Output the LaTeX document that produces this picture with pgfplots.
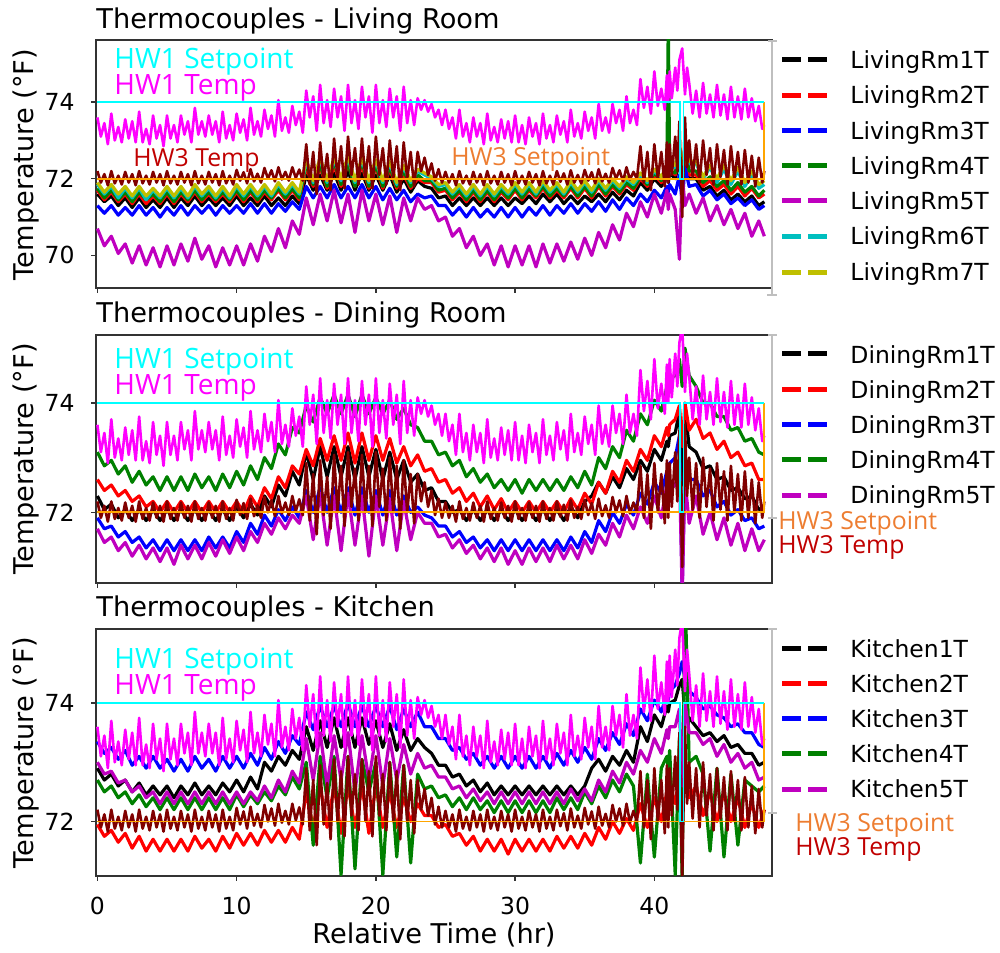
\documentclass[border=0pt]{standalone}
\usepackage{pgfplots}
\usepackage{pgfplotstable}
\pgfplotsset{compat=1.18}
\usepackage{fontspec}
\setmainfont{DejaVu Sans}
\newfontfamily\osans{Open Sans}

\definecolor{hwcyan}{RGB}{0,255,255}
\definecolor{hwmag}{RGB}{255,0,255}
\definecolor{hwmaroon}{RGB}{128,0,0}
\definecolor{hworange}{RGB}{255,165,0}
\definecolor{lblorange}{RGB}{237,125,49}
\definecolor{lblred}{RGB}{192,0,0}
\definecolor{mplgreen}{RGB}{0,128,0}
\definecolor{mplmag}{RGB}{191,0,191}
\definecolor{mplcyan}{RGB}{0,191,191}
\definecolor{mplolive}{RGB}{191,191,0}

\newcommand\legfont{\fontsize{11.75}{13}\selectfont}
\newcommand\titlefont{\fontsize{13.6}{15}\selectfont}
\newcommand\hwbig{\osans\fontsize{14}{16}\selectfont}
\newcommand\hwsmall{\osans\fontsize{12.4}{14}\selectfont}

% HW temperatures, sampled every 15 min (denser around the 42 h event).
\pgfplotstableread{
x 0 0.25 0.5 0.75 1 1.25 1.5 1.75 2 2.25 2.5 2.75 3 3.25 3.5 3.75 4 4.25 4.5 4.75 5 5.25 5.5 5.75 6 6.25 6.5 6.75 7 7.25 7.5 7.75 8 8.25 8.5 8.75 9 9.25 9.5 9.75 10 10.25 10.5 10.75 11 11.25 11.5 11.75 12 12.25 12.5 12.75 13 13.25 13.5 13.75 14 14.25 14.5 14.75 15 15.25 15.5 15.75 16 16.25 16.5 16.75 17 17.25 17.5 17.75 18 18.25 18.5 18.75 19 19.25 19.5 19.75 20 20.25 20.5 20.75 21 21.25 21.5 21.75 22 22.25 22.5 22.75 23 23.25 23.5 23.75 24 24.25 24.5 24.75 25 25.25 25.5 25.75 26 26.25 26.5 26.75 27 27.25 27.5 27.75 28 28.25 28.5 28.75 29 29.25 29.5 29.75 30 30.25 30.5 30.75 31 31.25 31.5 31.75 32 32.25 32.5 32.75 33 33.25 33.5 33.75 34 34.25 34.5 34.75 35 35.25 35.5 35.75 36 36.25 36.5 36.75 37 37.25 37.5 37.75 38 38.25 38.5 38.75 39 39.25 39.5 39.75 40 40.25 40.5 40.75 40.9 41 41.1 41.25 41.5 41.65 41.8 42 42.2 42.35 42.5 42.75 43 43.25 43.5 43.75 44 44.25 44.5 44.75 45 45.25 45.5 45.75 46 46.25 46.5 46.75 47 47.25 47.5 47.75 47.9
hw1 73.6 73.1 73.45 72.9 73.7 73.0 73.35 72.95 73.55 73.05 73.5 72.95 73.75 72.95 73.3 72.9 73.65 73.05 73.4 72.85 73.65 73.05 73.4 72.95 73.65 73.15 73.5 72.95 73.85 73.15 73.5 73.1 73.65 73.15 73.5 72.95 73.75 73.05 73.4 73.0 73.7 73.2 73.55 73.0 73.85 73.15 73.5 73.1 73.8 73.3 73.65 73.1 74.05 73.25 73.6 73.2 73.9 73.4 73.75 73.2 74.3 73.6 74.15 73.25 74.45 73.45 74.05 73.35 74.35 73.6 74.15 73.25 74.45 73.45 74.05 73.3 74.4 73.6 74.15 73.2 74.45 73.45 74.05 73.35 74.35 73.6 74.15 73.25 74.4 73.45 74.05 73.4 74.1 73.8 74.05 73.75 73.95 73.6 73.8 73.4 73.8 73.3 73.6 73.05 73.8 73.1 73.45 72.95 73.6 73.1 73.45 72.9 73.7 73.0 73.35 72.95 73.55 73.05 73.5 72.95 73.65 72.95 73.4 72.9 73.6 73.1 73.45 72.9 73.7 73.05 73.4 72.95 73.65 73.15 73.5 72.95 73.8 73.1 73.45 73.05 73.75 73.25 73.6 73.05 73.95 73.25 73.6 73.2 73.95 73.45 73.8 73.25 74.15 73.45 73.8 73.4 74.6 73.85 74.4 73.7 74.8 73.9 74.35 73.8 74.7 74.0 74.8 74.1 74.9 74.3 75.1 75.4 74.2 74.9 74.5 73.7 74.3 73.6 74.5 73.7 74.2 73.6 74.45 73.65 74.2 73.55 74.4 73.6 74.15 73.55 74.35 73.6 74.1 73.5 73.9 73.3 73.4
hw3 72.2 71.9 72.12 71.83 72.2 71.88 72.08 71.85 72.18 71.9 72.12 71.83 72.2 71.88 72.08 71.85 72.18 71.9 72.12 71.83 72.2 71.88 72.08 71.85 72.18 71.9 72.12 71.83 72.2 71.88 72.08 71.85 72.18 71.9 72.12 71.83 72.2 71.88 72.08 71.85 72.23 71.95 72.17 71.88 72.25 71.93 72.13 71.9 72.28 72.0 72.22 71.93 72.3 71.98 72.18 71.95 72.3 72.02 72.24 71.95 72.9 71.85 72.7 71.6 72.95 71.95 72.65 71.7 73.05 72.0 72.85 71.75 73.1 72.1 72.8 71.85 73.05 72.0 72.85 71.75 73.1 72.1 72.8 71.85 73.0 72.0 72.85 71.7 72.95 72.0 72.7 71.8 72.7 72.2 72.55 72.1 72.4 71.95 72.25 71.9 72.18 71.9 72.12 71.83 72.2 71.88 72.08 71.85 72.18 71.9 72.12 71.83 72.2 71.88 72.08 71.85 72.18 71.9 72.12 71.83 72.2 71.88 72.08 71.85 72.18 71.9 72.12 71.83 72.2 71.88 72.08 71.85 72.2 71.92 72.14 71.85 72.22 71.9 72.1 71.88 72.23 71.95 72.17 71.88 72.25 71.93 72.13 71.9 72.28 72.0 72.22 71.93 72.3 71.98 72.18 72.0 72.85 71.9 72.7 71.7 72.9 72.0 72.7 71.8 72.95 71.9 72.9 72.1 73.1 72.2 73.5 71.0 73.6 72.3 73.0 72.05 72.9 71.9 73.0 72.1 72.8 71.85 72.9 72.05 72.75 71.85 72.85 72.0 72.7 71.85 72.75 71.9 72.6 71.8 72.55 71.9 72.2
}\hwraw
\pgfplotstabletranspose[colnames from=x, input colnames to=t]\hwdata\hwraw

% Thermocouple readings, one row per sensor, every 30 min.
\pgfplotstableread{
x 0 0.5 1 1.5 2 2.5 3 3.5 4 4.5 5 5.5 6 6.5 7 7.5 8 8.5 9 9.5 10 10.5 11 11.5 12 12.5 13 13.5 14 14.5 15 15.5 16 16.5 17 17.5 18 18.5 19 19.5 20 20.5 21 21.5 22 22.5 23 23.5 24 24.5 25 25.5 26 26.5 27 27.5 28 28.5 29 29.5 30 30.5 31 31.5 32 32.5 33 33.5 34 34.5 35 35.5 36 36.5 37 37.5 38 38.5 39 39.5 40 40.5 40.9 41 41.1 41.5 41.8 42 42.2 42.5 43 43.5 44 44.5 45 45.5 46 46.5 47 47.5 47.9
l1 71.6 71.4 71.55 71.3 71.5 71.25 71.5 71.25 71.45 71.25 71.5 71.25 71.5 71.3 71.55 71.3 71.5 71.3 71.5 71.3 71.55 71.3 71.5 71.3 71.55 71.3 71.5 71.3 71.55 71.35 72.1 71.7 72.1 71.7 72.15 71.7 72.2 71.7 72.15 71.7 72.1 71.7 72.1 71.65 72.0 71.65 71.95 71.8 71.75 71.5 71.55 71.3 71.5 71.3 71.5 71.3 71.5 71.3 71.5 71.3 71.5 71.35 71.55 71.35 71.6 71.4 71.6 71.35 71.55 71.35 71.55 71.4 71.6 71.4 71.65 71.45 71.7 71.55 71.9 71.7 72.0 71.8 72.1 71.9 72.15 72.0 72.5 71.6 72.6 72.0 72.0 71.7 71.8 71.55 71.7 71.45 71.6 71.4 71.55 71.3 71.4
l2 71.7 71.45 71.65 71.4 71.6 71.35 71.6 71.35 71.55 71.35 71.6 71.35 71.6 71.4 71.65 71.4 71.6 71.4 71.6 71.4 71.65 71.4 71.65 71.4 71.65 71.45 71.7 71.45 71.7 71.45 72.3 71.8 72.3 71.75 72.35 71.8 72.4 71.8 72.35 71.75 72.3 71.75 72.25 71.75 72.1 71.75 72.0 71.9 71.9 71.65 71.7 71.45 71.65 71.4 71.65 71.4 71.65 71.4 71.65 71.45 71.7 71.45 71.7 71.5 71.75 71.5 71.7 71.5 71.75 71.5 71.75 71.5 71.8 71.55 71.8 71.6 71.85 71.7 72.0 71.8 72.1 71.9 72.2 72.0 72.25 72.1 72.6 71.8 72.7 72.1 72.1 71.8 71.95 71.7 71.85 71.6 71.8 71.55 71.75 71.5 71.6
l3 71.3 71.1 71.3 71.05 71.25 71.05 71.3 71.05 71.25 71.0 71.25 71.05 71.3 71.05 71.3 71.1 71.3 71.05 71.3 71.1 71.3 71.1 71.35 71.1 71.35 71.1 71.35 71.15 71.4 71.2 71.8 71.5 71.8 71.5 71.85 71.5 71.8 71.5 71.85 71.5 71.8 71.45 71.75 71.45 71.7 71.4 71.6 71.5 71.55 71.3 71.3 71.05 71.25 71.0 71.25 71.0 71.2 71.0 71.25 71.0 71.25 71.0 71.25 71.05 71.3 71.05 71.3 71.1 71.35 71.1 71.35 71.15 71.4 71.15 71.45 71.2 71.5 71.3 71.6 71.4 71.7 71.5 71.8 71.65 71.85 71.6 72.1 71.4 72.3 71.8 71.85 71.55 71.7 71.45 71.6 71.35 71.5 71.3 71.45 71.2 71.3
l4 71.75 71.5 71.7 71.45 71.65 71.4 71.65 71.45 71.6 71.4 71.65 71.4 71.65 71.45 71.7 71.45 71.65 71.45 71.65 71.45 71.7 71.45 71.7 71.45 71.7 71.5 71.75 71.5 71.75 71.5 72.4 71.85 72.35 71.8 72.45 71.85 72.4 71.8 72.45 71.8 72.35 71.8 72.3 71.8 72.2 71.8 72.1 71.95 71.95 71.7 71.75 71.5 71.7 71.45 71.7 71.45 71.7 71.45 71.7 71.5 71.75 71.5 71.75 71.55 71.8 71.55 71.75 71.55 71.8 71.55 71.8 71.55 71.85 71.6 71.85 71.65 71.9 71.75 72.05 71.85 72.15 71.95 72.2 76.0 72.2 72.15 72.7 71.9 72.8 72.2 72.2 71.9 72.05 71.8 71.95 71.7 71.9 71.65 71.8 71.55 71.7
l5 70.7 70.25 70.5 70.05 70.3 69.8 70.25 69.75 70.2 69.7 70.25 69.75 70.3 69.85 70.45 69.9 70.25 69.7 70.2 69.75 70.25 69.75 70.3 69.85 70.5 70.1 70.7 70.2 70.9 70.55 71.5 70.8 71.6 70.9 71.7 70.85 71.6 70.6 71.7 70.9 71.6 70.8 71.55 70.6 71.5 70.9 71.5 71.2 71.3 70.9 71.0 70.5 70.7 70.2 70.5 70.0 70.3 69.75 70.25 69.7 70.25 69.75 70.25 69.7 70.3 69.8 70.3 69.85 70.35 69.9 70.45 70.0 70.6 70.2 70.8 70.4 71.1 70.75 71.4 71.0 71.6 71.1 71.7 71.2 71.6 71.2 69.9 72.1 71.3 71.6 71.1 71.5 70.9 71.3 70.8 71.2 70.7 71.1 70.5 70.9 70.5
l6 71.85 71.6 71.8 71.5 71.75 71.5 71.75 71.45 71.7 71.5 71.75 71.5 71.75 71.5 71.8 71.55 71.75 71.5 71.75 71.5 71.8 71.55 71.8 71.55 71.8 71.55 71.85 71.6 71.85 71.6 72.45 71.9 72.5 71.9 72.5 71.95 72.55 71.9 72.5 71.9 72.45 71.9 72.4 71.85 72.3 71.9 72.2 72.1 72.0 71.8 71.85 71.6 71.8 71.55 71.8 71.55 71.8 71.55 71.8 71.6 71.85 71.6 71.85 71.6 71.9 71.65 71.85 71.6 71.9 71.65 71.9 71.65 71.95 71.7 71.95 71.75 72.0 71.85 72.1 71.9 72.2 72.0 72.3 72.05 72.3 72.3 72.8 72.0 72.9 72.4 72.4 72.0 72.3 71.9 72.25 71.85 72.2 71.8 72.1 71.75 71.85
l7 71.9 71.65 71.85 71.6 71.8 71.55 71.8 71.55 71.75 71.55 71.8 71.55 71.8 71.55 71.85 71.6 71.8 71.55 71.8 71.55 71.85 71.6 71.85 71.6 71.85 71.6 71.9 71.65 71.9 71.65 72.5 71.95 72.55 71.95 72.55 72.0 72.6 71.95 72.55 71.95 72.5 71.95 72.45 71.9 72.35 71.95 72.25 72.15 72.05 71.85 71.9 71.65 71.85 71.6 71.85 71.6 71.85 71.6 71.85 71.65 71.9 71.65 71.9 71.65 71.95 71.7 71.9 71.65 71.95 71.7 71.95 71.7 72.0 71.75 72.0 71.8 72.05 71.9 72.15 71.95 72.25 72.05 72.35 72.1 72.35 72.35 72.9 72.0 72.95 72.45 72.45 72.05 72.35 72.0 72.35 71.95 72.3 71.9 72.2 71.85 71.95
}\livingraw
\pgfplotstabletranspose[colnames from=x, input colnames to=t]\living\livingraw

\pgfplotstableread{
x 0 0.5 1 1.5 2 2.5 3 3.5 4 4.5 5 5.5 6 6.5 7 7.5 8 8.5 9 9.5 10 10.5 11 11.5 12 12.5 13 13.5 14 14.5 15 15.5 16 16.5 17 17.5 18 18.5 19 19.5 20 20.5 21 21.5 22 22.5 23 23.5 24 24.5 25 25.5 26 26.5 27 27.5 28 28.5 29 29.5 30 30.5 31 31.5 32 32.5 33 33.5 34 34.5 35 35.5 36 36.5 37 37.5 38 38.5 39 39.5 40 40.5 40.9 41 41.1 41.5 41.8 42 42.2 42.5 43 43.5 44 44.5 45 45.5 46 46.5 47 47.5 47.9
d1 72.3 72.05 72.15 71.9 72.05 71.85 72.05 71.85 72.05 71.85 72.05 71.85 72.05 71.85 72.05 71.85 72.05 71.85 72.05 71.85 72.1 71.9 72.15 71.95 72.3 72.1 72.5 72.3 72.75 72.5 73.1 72.6 73.2 72.65 73.2 72.65 73.2 72.6 73.2 72.65 73.15 72.6 73.1 72.6 72.95 72.55 72.7 72.4 72.45 72.2 72.2 72.0 72.05 71.85 72.05 71.85 72.05 71.85 72.05 71.85 72.05 71.85 72.05 71.85 72.05 71.85 72.05 71.85 72.1 71.9 72.2 72.3 72.55 72.35 72.65 72.45 72.8 72.6 72.95 72.75 73.15 72.95 73.3 73.2 73.4 73.45 73.85 72.5 73.9 73.2 73.1 72.8 72.85 72.6 72.65 72.4 72.45 72.25 72.3 72.05 72.1
d2 72.6 72.4 72.5 72.3 72.4 72.2 72.3 72.1 72.2 72.0 72.2 72.0 72.2 72.0 72.2 72.0 72.2 72.0 72.2 72.0 72.2 72.0 72.3 72.1 72.45 72.25 72.65 72.45 72.85 72.7 73.15 72.85 73.35 72.95 73.4 72.95 73.45 72.9 73.45 72.95 73.4 72.95 73.35 72.9 73.2 72.85 73.05 72.75 72.8 72.55 72.6 72.35 72.45 72.2 72.35 72.1 72.3 72.05 72.25 72.0 72.2 72.0 72.2 72.0 72.2 72.0 72.2 72.0 72.25 72.05 72.35 72.15 72.55 72.35 72.75 72.55 72.95 72.75 73.15 72.95 73.4 73.2 73.55 73.4 73.6 73.7 73.95 73.2 74.0 73.5 73.7 73.35 73.45 73.15 73.3 73.0 73.1 72.85 72.9 72.6 72.6
d3 71.9 71.7 71.75 71.55 71.65 71.45 71.55 71.35 71.5 71.3 71.5 71.3 71.5 71.3 71.5 71.3 71.55 71.35 71.55 71.35 71.65 71.45 71.8 71.6 71.95 71.75 72.05 71.85 72.1 71.9 72.4 72.0 72.45 72.0 72.45 72.0 72.45 71.95 72.45 72.0 72.4 71.95 72.4 71.95 72.3 72.0 72.1 71.95 71.9 71.75 71.75 71.55 71.65 71.45 71.55 71.35 71.5 71.3 71.5 71.3 71.5 71.3 71.5 71.3 71.5 71.3 71.5 71.3 71.55 71.35 71.65 71.45 71.85 71.65 72.0 71.8 72.15 71.95 72.35 72.15 72.55 72.35 72.75 72.7 72.9 73.0 73.4 70.6 73.0 72.6 72.6 72.3 72.4 72.1 72.2 71.95 72.05 71.85 71.9 71.7 71.75
d4 73.1 72.85 72.95 72.7 72.85 72.55 72.75 72.5 72.65 72.4 72.65 72.4 72.65 72.4 72.7 72.45 72.65 72.4 72.7 72.45 72.75 72.5 72.85 72.6 73.0 72.8 73.25 73.05 73.55 73.45 73.95 73.65 74.1 73.8 74.15 73.8 74.15 73.75 74.15 73.8 74.1 73.8 74.05 73.7 73.9 73.6 73.55 73.3 73.3 73.05 73.1 72.85 72.95 72.65 72.8 72.55 72.7 72.45 72.6 72.4 72.6 72.35 72.6 72.4 72.6 72.4 72.6 72.4 72.65 72.45 72.75 72.5 73.0 72.8 73.2 73.0 73.5 73.3 73.8 73.6 74.05 73.85 74.3 74.2 74.45 74.5 74.8 74.3 75.0 74.5 74.3 74.0 74.0 73.75 73.75 73.5 73.55 73.3 73.35 73.1 73.05
d5 71.7 71.45 71.55 71.3 71.45 71.2 71.4 71.15 71.35 71.1 71.35 71.05 71.4 71.15 71.4 71.15 71.45 71.2 71.5 71.25 71.55 71.3 71.65 71.45 71.8 71.6 71.9 71.7 71.95 71.8 72.3 71.5 72.35 71.4 72.3 71.3 72.35 71.4 72.3 71.2 72.3 71.4 72.25 71.3 72.2 71.5 72.0 71.8 71.8 71.55 71.6 71.35 71.5 71.25 71.4 71.15 71.35 71.1 71.35 71.05 71.3 71.05 71.35 71.1 71.35 71.1 71.4 71.15 71.4 71.15 71.5 71.25 71.6 71.4 71.8 71.55 71.95 71.7 72.1 71.8 72.3 71.9 72.5 72.3 72.4 72.5 72.8 70.5 72.6 71.8 72.3 71.6 72.0 71.5 71.9 71.4 71.8 71.3 71.7 71.3 71.5
}\diningraw
\pgfplotstabletranspose[colnames from=x, input colnames to=t]\dining\diningraw

\pgfplotstableread{
x 0 0.5 1 1.5 2 2.5 3 3.5 4 4.5 5 5.5 6 6.5 7 7.5 8 8.5 9 9.5 10 10.5 11 11.5 12 12.5 13 13.5 14 14.5 15 15.5 16 16.5 17 17.5 18 18.5 19 19.5 20 20.5 21 21.5 22 22.5 23 23.5 24 24.5 25 25.5 26 26.5 27 27.5 28 28.5 29 29.5 30 30.5 31 31.5 32 32.5 33 33.5 34 34.5 35 35.5 36 36.5 37 37.5 38 38.5 39 39.5 40 40.5 40.9 41 41.1 41.5 41.8 42 42.2 42.5 43 43.5 44 44.5 45 45.5 46 46.5 47 47.5 47.9
k1 72.9 72.7 72.8 72.6 72.7 72.5 72.65 72.45 72.6 72.45 72.6 72.4 72.6 72.45 72.65 72.45 72.6 72.45 72.65 72.5 72.7 72.5 72.75 72.55 73.0 72.85 73.1 72.95 73.2 73.05 73.6 73.2 73.7 73.25 73.75 73.25 73.75 73.25 73.75 73.3 73.7 73.25 73.65 73.2 73.55 73.2 73.4 73.25 73.15 72.95 72.95 72.75 72.8 72.6 72.7 72.5 72.65 72.45 72.6 72.45 72.6 72.45 72.6 72.45 72.6 72.45 72.6 72.45 72.6 72.45 72.6 72.9 73.05 72.85 73.1 72.95 73.2 73.0 73.6 73.35 73.8 73.6 73.95 73.85 74.0 74.05 74.3 74.4 73.8 73.75 73.6 73.45 73.5 73.35 73.45 73.25 73.3 73.15 73.15 72.95 73.0
k2 71.95 71.75 71.85 71.65 71.8 71.55 71.75 71.5 71.7 71.5 71.7 71.5 71.7 71.5 71.75 71.55 71.7 71.5 71.75 71.55 71.8 71.6 71.8 71.6 71.85 71.65 71.85 71.65 71.9 71.7 72.5 71.9 72.6 71.9 72.6 71.8 72.6 71.9 72.6 71.8 72.6 71.9 72.5 71.9 72.4 72.0 72.3 72.1 72.1 71.9 71.95 71.75 71.8 71.6 71.75 71.5 71.7 71.5 71.7 71.45 71.7 71.5 71.7 71.5 71.7 71.5 71.75 71.55 71.75 71.55 71.8 71.6 71.9 71.7 72.0 71.8 72.05 71.85 72.3 71.9 72.4 72.0 72.5 72.2 72.6 72.3 72.8 72.0 72.9 72.4 72.6 72.1 72.5 72.0 72.5 72.0 72.4 71.9 72.3 71.9 72.2
k3 73.35 73.15 73.25 73.05 73.2 72.95 73.1 72.9 73.1 72.9 73.05 72.85 73.05 72.85 73.1 72.9 73.05 72.85 73.1 72.9 73.1 72.9 73.15 72.95 73.25 73.05 73.35 73.15 73.45 73.3 73.85 73.55 73.95 73.6 73.95 73.6 74.0 73.6 73.95 73.6 73.95 73.6 73.95 73.55 73.9 73.6 73.85 73.6 73.6 73.4 73.4 73.2 73.25 73.05 73.15 72.95 73.1 72.9 73.1 72.9 73.1 72.9 73.1 72.9 73.1 72.9 73.15 72.95 73.2 73.0 73.25 73.05 73.4 73.2 73.5 73.3 73.65 73.45 73.9 73.7 74.05 73.85 74.15 74.05 74.2 74.3 74.5 74.7 74.4 74.2 74.1 73.9 73.95 73.8 73.75 73.6 73.65 73.5 73.5 73.3 73.25
k4 72.7 72.5 72.6 72.4 72.5 72.3 72.45 72.25 72.4 72.2 72.4 72.2 72.4 72.2 72.4 72.2 72.4 72.2 72.4 72.2 72.45 72.25 72.45 72.3 72.5 72.35 72.6 72.45 72.75 72.55 73.0 71.6 73.1 72.4 73.1 71.1 73.1 71.2 73.05 72.5 73.0 71.1 73.0 71.4 72.95 71.3 72.8 72.55 72.6 72.4 72.45 72.25 72.4 72.2 72.4 72.2 72.35 72.15 72.35 72.15 72.35 72.15 72.35 72.15 72.35 72.15 72.4 72.2 72.4 72.2 72.5 72.3 72.6 72.4 72.7 72.5 72.8 72.6 71.3 72.8 71.4 72.9 73.1 72.9 73.2 71.1 73.4 71.0 76.0 73.0 73.1 72.8 71.5 72.9 71.4 72.8 71.6 72.7 72.6 72.5 72.6
k5 73.0 72.8 72.85 72.65 72.7 72.5 72.6 72.4 72.5 72.3 72.5 72.3 72.5 72.3 72.5 72.3 72.5 72.3 72.5 72.3 72.5 72.3 72.5 72.35 72.6 72.4 72.7 72.5 72.85 72.65 73.4 72.7 73.5 72.6 73.45 72.7 73.5 72.5 73.45 72.7 73.45 72.6 73.4 72.7 73.3 72.8 73.15 72.9 72.95 72.75 72.75 72.55 72.6 72.4 72.55 72.35 72.5 72.3 72.5 72.3 72.5 72.3 72.5 72.3 72.5 72.3 72.5 72.3 72.55 72.35 72.55 72.35 72.7 72.5 72.85 72.65 73.0 72.8 73.2 73.0 73.4 73.15 73.55 73.4 73.6 73.6 73.9 72.6 74.0 73.5 73.5 73.3 73.4 73.1 73.3 73.0 73.15 72.9 73.0 72.7 72.75
}\kitchenraw
\pgfplotstabletranspose[colnames from=x, input colnames to=t]\kitchen\kitchenraw

\pgfplotsset{
  panel/.style={
    scale only axis, width=338pt,
    xmin=-0.1, xmax=48.45,
    xtick={0,10,20,30,40},
    tick pos=left, tick align=outside, major tick length=2.5pt,
    axis line style={black!80, line width=0.7pt},
    every tick/.style={black!80, line width=0.7pt},
    ticklabel style={font=\legfont},
    yticklabel style={inner sep=0pt, xshift=-8pt},
    xticklabel style={inner sep=0pt, yshift=-8pt},
  },
  tc/.style={line width=1.6pt, line join=round},
  hwline/.style={line width=1.3pt, line join=round},
  spline/.style={line width=0.9pt},
}

% Measured HW temperatures and the two setpoint schedules, drawn over each panel
\newcommand\hwlayers{%
  \addplot[hwmaroon, hwline] table[x=t, y=hw3] {\hwdata};
  \addplot[hwmag, hwline] table[x=t, y=hw1] {\hwdata};
  \addplot[hworange, spline] coordinates {(0,72) (47.9,72) (47.9,74)};
  \addplot[hwcyan, spline] coordinates {(0,74) (41.85,74) (41.85,72) (42.1,72) (42.1,74) (47.9,74)};
}

\begin{document}
\begin{tikzpicture}
\path[use as bounding box] (0,0) rectangle (500pt,476pt);

\begin{axis}[panel, at={(48pt,332pt)}, anchor=south west, height=124pt,
  ymin=69.15, ymax=75.62, ytick={70,72,74}, yticklabels={70,72,74}, xticklabels={}]
  \addplot[tc, black] table[x=t, y=l1] {\living};
  \addplot[tc, red] table[x=t, y=l2] {\living};
  \addplot[tc, blue] table[x=t, y=l3] {\living};
  \addplot[tc, mplgreen] table[x=t, y=l4] {\living};
  \addplot[tc, mplmag] table[x=t, y=l5] {\living};
  \addplot[tc, mplcyan] table[x=t, y=l6] {\living};
  \addplot[tc, mplolive] table[x=t, y=l7] {\living};
  \hwlayers
\end{axis}

\begin{axis}[panel, at={(48pt,184.5pt)}, anchor=south west, height=124pt,
  ymin=70.71, ymax=75.24, ytick={72,74}, yticklabels={72,74}, xticklabels={}]
  \addplot[tc, black] table[x=t, y=d1] {\dining};
  \addplot[tc, red] table[x=t, y=d2] {\dining};
  \addplot[tc, blue] table[x=t, y=d3] {\dining};
  \addplot[tc, mplgreen] table[x=t, y=d4] {\dining};
  \addplot[tc, mplmag] table[x=t, y=d5] {\dining};
  \hwlayers
\end{axis}

\begin{axis}[panel, at={(48pt,38pt)}, anchor=south west, height=123.5pt,
  ymin=71.08, ymax=75.25, ytick={72,74}, yticklabels={72,74}, xticklabels={0,10,20,30,40}]
  \addplot[tc, black] table[x=t, y=k1] {\kitchen};
  \addplot[tc, red] table[x=t, y=k2] {\kitchen};
  \addplot[tc, blue] table[x=t, y=k3] {\kitchen};
  \addplot[tc, mplgreen] table[x=t, y=k4] {\kitchen};
  \addplot[tc, mplmag] table[x=t, y=k5] {\kitchen};
  \hwlayers
\end{axis}

% Titles, axis labels, legends and line labels (1 unit = 1 px, y downwards)
\begin{scope}[shift={(0pt,476pt)}, x=0.5pt, y=-0.5pt]
  \newcommand\legitem[4]{%
    \draw[#1, line width=2.5pt, dash pattern=on 9.5pt off 3.5pt] (782,#2) -- (827,#2);
    \node[anchor=base west, inner sep=0pt, font=\legfont] at (850,#3) {#4};}

  \node[anchor=base west, inner sep=0pt, font=\titlefont] at (96,29) {Thermocouples - Living Room};
  \node[anchor=base west, inner sep=0pt, font=\titlefont] at (96,323) {Thermocouples - Dining Room};
  \node[anchor=base west, inner sep=0pt, font=\titlefont] at (96,617) {Thermocouples - Kitchen};

  \node[rotate=90, anchor=base, inner sep=0pt, font=\titlefont] at (33,164.5) {Temperature (°F)};
  \node[rotate=90, anchor=base, inner sep=0pt, font=\titlefont] at (33,459) {Temperature (°F)};
  \node[rotate=90, anchor=base, inner sep=0pt, font=\titlefont] at (33,752.5) {Temperature (°F)};
  \node[anchor=base, inner sep=0pt, font=\titlefont] at (434,943) {Relative Time (hr)};

  % right-edge frame of the legend area
  \draw[black!25, line width=1pt] (772,41) -- (772,295) (768,41) -- (777,41) (767,295) -- (777,295);
  \draw[black!25, line width=1pt] (772,335) -- (772,518) (768,335) -- (777,335) (768,518) -- (777,518);
  \draw[black!25, line width=1pt] (772,629) -- (772,813) (768,629) -- (777,629) (768,813) -- (777,813);

  \legitem{black}{60}{68.3}{LivingRm1T}
  \legitem{red}{95.7}{104}{LivingRm2T}
  \legitem{blue}{131}{139.3}{LivingRm3T}
  \legitem{mplgreen}{166}{174.3}{LivingRm4T}
  \legitem{mplmag}{201}{209.3}{LivingRm5T}
  \legitem{mplcyan}{236.7}{245}{LivingRm6T}
  \legitem{mplolive}{272.7}{281}{LivingRm7T}

  \legitem{black}{354}{363.3}{DiningRm1T}
  \legitem{red}{389.3}{398.3}{DiningRm2T}
  \legitem{blue}{425}{433.3}{DiningRm3T}
  \legitem{mplgreen}{460}{468.3}{DiningRm4T}
  \legitem{mplmag}{495.7}{503.3}{DiningRm5T}

  \legitem{black}{648.3}{657.3}{Kitchen1T}
  \legitem{red}{684}{692.3}{Kitchen2T}
  \legitem{blue}{719}{727.7}{Kitchen3T}
  \legitem{mplgreen}{754}{762.7}{Kitchen4T}
  \legitem{mplmag}{789.3}{797.7}{Kitchen5T}

  % labels of the HW lines
  \foreach \yo in {0,300,600}{
    \node[anchor=base west, inner sep=0pt, font=\hwbig, text=hwcyan] at (114,68.3+\yo) {HW1 Setpoint};
    \node[anchor=base west, inner sep=0pt, font=\hwbig, text=hwmag] at (114,95+\yo) {HW1 Temp};
  }
  \node[anchor=base west, inner sep=0pt, font=\hwsmall, text=lblred] at (133,166.7) {HW3 Temp};
  \node[anchor=base west, inner sep=0pt, font=\hwsmall, text=lblorange] at (451,165.5) {HW3 Setpoint};
  \node[anchor=base west, inner sep=0pt, font=\hwsmall, text=lblorange] at (778,530) {HW3 Setpoint};
  \node[anchor=base west, inner sep=0pt, font=\hwsmall, text=lblred] at (778,554) {HW3 Temp};
  \node[anchor=base west, inner sep=0pt, font=\hwsmall, text=lblorange] at (795,831.7) {HW3 Setpoint};
  \node[anchor=base west, inner sep=0pt, font=\hwsmall, text=lblred] at (795,856) {HW3 Temp};
\end{scope}
\end{tikzpicture}
\end{document}
